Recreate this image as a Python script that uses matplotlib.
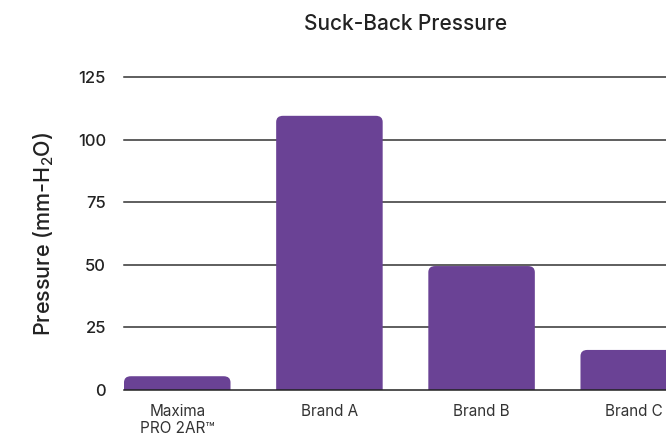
import matplotlib
matplotlib.use("Agg")
import matplotlib.pyplot as plt
from matplotlib.patches import FancyBboxPatch

categories = ["Maxima\nPRO 2AR™", "Brand A", "Brand B", "Brand C"]
values = [5.5, 109.5, 49.5, 16]
yticks = [0, 25, 50, 75, 100, 125]

plt.rcParams['font.family'] = ['Inter', 'DejaVu Sans']
plt.rcParams['mathtext.fontset'] = 'custom'
plt.rcParams['mathtext.rm'] = 'Inter'

fig = plt.figure(figsize=(6.66, 4.36), dpi=100)
W, H = 666, 436
left, right, bottom, top = 124, 687, 390, 77
ax = fig.add_axes([left / W, (H - bottom) / H, (right - left) / W, (bottom - top) / H])

color = "#6a4295"
x = list(range(len(categories)))
bars = ax.bar(x, values, width=0.7, color=color, zorder=3)
for b in bars:
    b.set_visible(False)
    p = FancyBboxPatch((b.get_x(), -10), b.get_width(), b.get_height() + 10,
                       boxstyle="round,pad=0,rounding_size=0.045",
                       mutation_aspect=55, facecolor=color, edgecolor="none",
                       zorder=3, clip_on=True)
    ax.add_patch(p)

ax.set_xlim(-0.35, 3.35)
ax.set_ylim(0, 125)
for t in yticks:
    ax.axhline(t, color="#222222" if t == 0 else "#333333", lw=1.1, zorder=4 if t == 0 else 1, clip_on=False)

for s in ax.spines.values():
    s.set_visible(False)
ax.set_yticks(yticks)
ax.set_yticklabels([str(t) for t in yticks], fontweight=500)
ax.set_xticks(x)
ax.set_xticklabels(categories, linespacing=1.2)
ax.tick_params(axis='y', length=0, pad=13, labelsize=12, labelcolor="#222222")
ax.tick_params(axis='x', length=0, pad=10, labelsize=11, labelcolor="#333333")

ax.set_ylabel(r"Pressure (mm-H$_\mathregular{2}$O)", fontsize=15.5, labelpad=16, color="#222222", fontweight=500)
ax.set_title("Suck-Back Pressure", fontsize=15, pad=34, color="#222222", fontweight=500)

fig.savefig("out.png", dpi=100)
